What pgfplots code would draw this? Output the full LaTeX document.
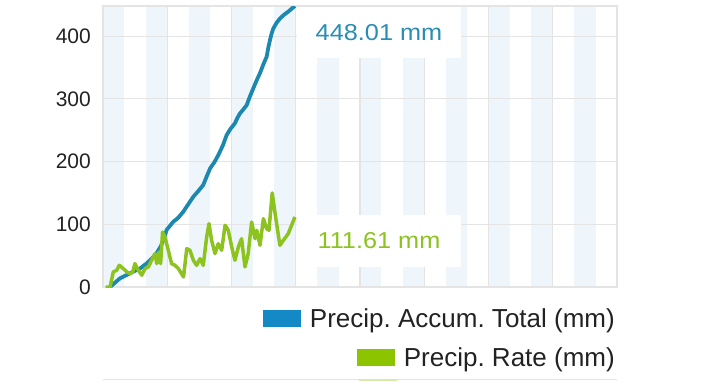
\documentclass[border=0pt]{standalone}
\usepackage{fontspec}
\setmainfont{Liberation Sans}
\usepackage{pgfplots}
\pgfplotsset{compat=1.18}
\definecolor{accblue}{HTML}{1C87AF}
\definecolor{accbluelab}{HTML}{2A8DB3}
\definecolor{accbluesq}{HTML}{1389C6}
\definecolor{rategreen}{HTML}{8CC31E}
\definecolor{rategreensq}{HTML}{8DC400}
\definecolor{bandcol}{HTML}{EEF5FB}
\definecolor{gridcol}{HTML}{E4E4E4}
\definecolor{txt}{HTML}{222222}
\begin{document}
\frenchspacing
\begin{tikzpicture}
\begin{axis}[
  set layers,
  scale only axis,
  width=514pt, height=281pt,
  xmin=0, xmax=24, ymin=0, ymax=448.01,
  xtick={0,3,...,24}, xticklabels={},
  ytick={0,100,200,300,400},
  /pgf/number format/assume math mode=true,
  major tick length=0pt,
  grid=major,
  major grid style={draw=gridcol, line width=1.2pt},
  axis line style={draw=gridcol, line width=1.2pt},
  yticklabel style={font=\fontsize{21}{24}\selectfont, text=txt, inner sep=0pt, xshift=-12pt},
  legend style={at={(rel axis cs:1,0)}, anchor=north east, xshift=-2pt, yshift=-21pt,
    draw=none, fill=none, inner sep=0pt, row sep=19pt,
    font=\fontsize{26}{30}\selectfont, text=txt,
    nodes={inner sep=0pt}},
  legend cell align=right,
]
\begin{pgfonlayer}{axis background}
\fill[bandcol] (axis cs:0,0) rectangle (axis cs:1,448.01);
\fill[bandcol] (axis cs:2,0) rectangle (axis cs:3,448.01);
\fill[bandcol] (axis cs:4,0) rectangle (axis cs:5,448.01);
\fill[bandcol] (axis cs:6,0) rectangle (axis cs:7,448.01);
\fill[bandcol] (axis cs:8,0) rectangle (axis cs:9,448.01);
\fill[bandcol] (axis cs:10,0) rectangle (axis cs:11,448.01);
\fill[bandcol] (axis cs:12,0) rectangle (axis cs:13,448.01);
\fill[bandcol] (axis cs:14,0) rectangle (axis cs:15,448.01);
\fill[bandcol] (axis cs:16,0) rectangle (axis cs:17,448.01);
\fill[bandcol] (axis cs:18,0) rectangle (axis cs:19,448.01);
\fill[bandcol] (axis cs:20,0) rectangle (axis cs:21,448.01);
\fill[bandcol] (axis cs:22,0) rectangle (axis cs:23,448.01);
\end{pgfonlayer}
% Precip. Accum. Total
\addplot[accblue, line width=3.8pt, line join=round, forget plot] coordinates {
(0.33,0) (0.79,13.8) (1.1,19) (1.41,24.5) (1.75,30) (2.04,37.7) (2.3,46)
(2.5,53.7) (2.7,65) (2.82,75) (2.97,91) (3.28,104) (3.5,110) (3.75,120)
(4.0,133) (4.22,144) (4.45,153) (4.68,162.6) (4.85,177) (5.0,189) (5.2,199)
(5.38,210) (5.6,226) (5.77,242) (5.95,252) (6.16,261) (6.28,270) (6.40,277)
(6.55,283) (6.71,290) (6.85,303) (7.02,317) (7.18,330) (7.33,341) (7.5,356)
(7.64,367) (7.72,382) (7.80,394) (7.88,405) (7.95,412) (8.1,421) (8.26,428)
(8.45,434) (8.65,439) (8.96,448.01)
};
% Precip. Rate
\addplot[rategreen, line width=3.5pt, line join=round, forget plot] coordinates {
(0.12,0) (0.33,0) (0.48,24) (0.64,26.6) (0.76,34.6) (0.95,29.3) (1.11,24)
(1.26,21.3) (1.39,24) (1.49,37.3) (1.65,26.6) (1.81,18.7) (1.96,29.3)
(2.12,32) (2.27,42.6) (2.43,53.3) (2.51,37.3) (2.61,55.8) (2.69,37.3)
(2.78,87.7) (2.89,79.7) (3.05,58.5) (3.2,37.3) (3.36,34.6) (3.52,29.3)
(3.76,16) (3.91,61.2) (4.06,58.5) (4.22,42.6) (4.37,34.6) (4.53,45.2)
(4.68,34.6) (4.84,79.7) (4.95,101) (5.07,74.4) (5.23,53.3) (5.38,69)
(5.54,58.5) (5.70,98.4) (5.85,90.4) (6.01,63.8) (6.16,42.6) (6.32,63.8)
(6.47,77) (6.63,32) (6.78,53.3) (6.94,103.6) (7.1,77) (7.18,90.4)
(7.33,66.5) (7.49,109) (7.64,93) (7.75,90.4) (7.90,150) (8.06,111.6)
(8.26,66.5) (8.42,74.4) (8.65,85) (8.96,111.61)
};
\node[fill=white, anchor=west, minimum width=149pt, minimum height=51pt, inner sep=0pt,
  text=accbluelab, font=\fontsize{23}{26}\selectfont, xscale=1.1]
  at (axis cs:9.05,405.8) {448.01 mm};
\node[fill=white, anchor=west, minimum width=149pt, minimum height=52pt, inner sep=0pt,
  text=rategreen, font=\fontsize{23}{26}\selectfont, xscale=1.1]
  at (axis cs:9.05,73.3) {111.61 mm};
\addlegendimage{empty legend}
\addlegendentry{{\color{accbluesq}\rule{38pt}{17pt}}\hspace{9pt}Precip. Accum. Total (mm)}
\addlegendimage{empty legend}
\addlegendentry{{\color{rategreensq}\rule{38pt}{17pt}}\hspace{9pt}Precip. Rate (mm)}
\end{axis}
\draw[gridcol, line width=1.5pt] (0pt,-92.5pt) -- (514pt,-92.5pt);
\fill[rategreensq!35] (256pt,-94pt) rectangle (294pt,-91.5pt);
\pgfresetboundingbox
\path (-103pt,-94pt) rectangle (617pt,287pt);
\end{tikzpicture}
\end{document}
